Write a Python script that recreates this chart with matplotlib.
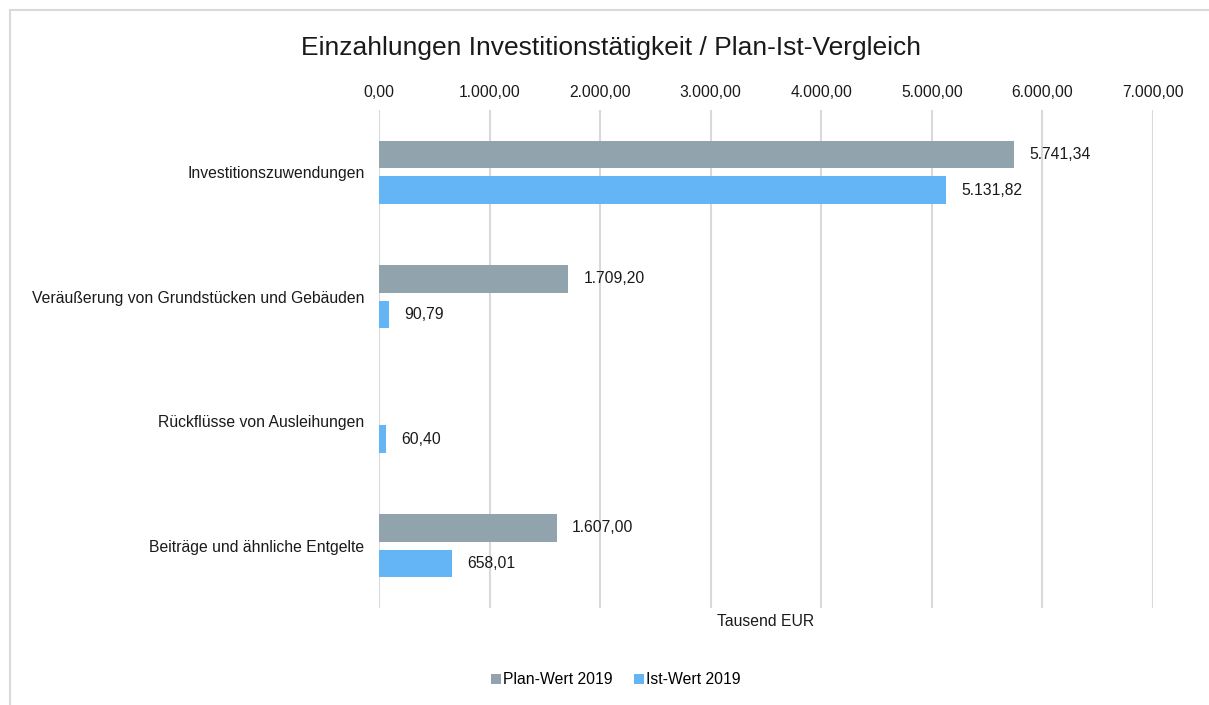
import matplotlib
matplotlib.use("Agg")
import matplotlib.pyplot as plt
from matplotlib.patches import Rectangle
from matplotlib.ticker import FuncFormatter

plt.rcParams['font.family'] = ['Liberation Sans', 'DejaVu Sans']

categories = ["Investitionszuwendungen",
              "Veräußerung von Grundstücken und Gebäuden",
              "Rückflüsse von Ausleihungen",
              "Beiträge und ähnliche Entgelte"]
plan_values = [5741.34, 1709.20, None, 1607.00]
ist_values = [5131.82, 90.79, 60.40, 658.01]
series_names = ["Plan-Wert 2019", "Ist-Wert 2019"]
x_ticks = [0, 1000, 2000, 3000, 4000, 5000, 6000, 7000]

plan_color = "#91A4AD"
ist_color = "#63B5F6"
txt = "#1a1a1a"
fs = 11.3


def de_fmt(v):
    s = f"{v:,.2f}"
    return s.replace(",", "X").replace(".", ",").replace("X", ".")


fig = plt.figure(figsize=(12.09, 7.05), dpi=100)
ax = fig.add_axes([379 / 1209, 1 - 608 / 705, (1153 - 379) / 1209, (608 - 110) / 705])

ypos = list(range(len(categories)))
h = 0.22
off = 0.143
plan_y = [y - off for y, v in zip(ypos, plan_values) if v is not None]
plan_v = [v for v in plan_values if v is not None]
ist_y = [y + off for y in ypos]

b1 = ax.barh(plan_y, plan_v, height=h, color=plan_color, label=series_names[0], zorder=3)
b2 = ax.barh(ist_y, ist_values, height=h, color=ist_color, label=series_names[1], zorder=3)

for y, v in zip(plan_y, plan_v):
    ax.annotate(de_fmt(v), (v, y), xytext=(11, 0), textcoords="offset points",
                va="center", ha="left", fontsize=fs, color=txt)
for y, v in zip(ist_y, ist_values):
    ax.annotate(de_fmt(v), (v, y), xytext=(11, 0), textcoords="offset points",
                va="center", ha="left", fontsize=fs, color=txt)

ax.set_xlim(0, 7000)
ax.set_ylim(len(categories) - 0.5, -0.5)
ax.set_xticks(x_ticks)
ax.xaxis.set_major_formatter(FuncFormatter(lambda v, p: de_fmt(v)))
ax.xaxis.tick_top()
ax.xaxis.set_label_position('bottom')
ax.set_xlabel("Tausend EUR", fontsize=fs, labelpad=4.5, color=txt)
ax.set_yticks(ypos)
ax.set_yticklabels(categories)
ax.tick_params(axis='x', length=0, pad=7.2, labelsize=fs, colors=txt)
ax.tick_params(axis='y', length=0, pad=10.5, labelsize=fs, colors=txt)
for s in ax.spines.values():
    s.set_visible(False)
ax.grid(axis='x', color="#d9d9d9", linewidth=1.5, zorder=0)
ax.set_axisbelow(True)

fig.text(0.505, 1 - 48 / 705, "Einzahlungen Investitionstätigkeit / Plan-Ist-Vergleich",
         ha="center", va="center", fontsize=19, color=txt)

fig.legend(handles=[b1, b2], loc="center", bbox_to_anchor=(616 / 1209, 1 - 680 / 705),
           ncol=2, frameon=False, fontsize=fs, handlelength=0.6, handleheight=0.6,
           handletextpad=0.15, columnspacing=1.4)

fig.patches.append(Rectangle((10 / 1209, -0.1), 1.2, 1 - 10 / 705 + 0.1,
                             transform=fig.transFigure, fill=False,
                             edgecolor="#d9d9d9", linewidth=1.5))

fig.savefig("out.png", dpi=100)
